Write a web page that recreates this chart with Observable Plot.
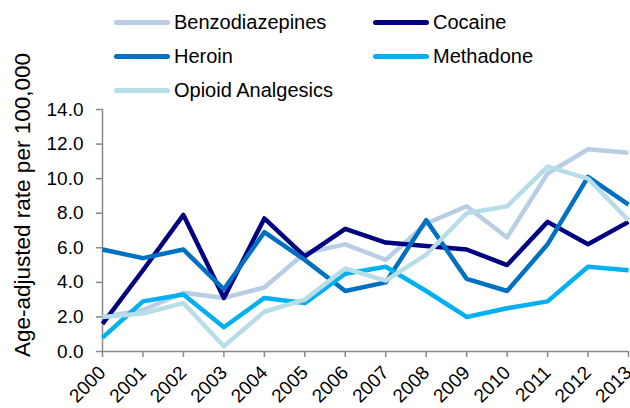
<!DOCTYPE html>
<html>
<head>
<meta charset="utf-8">
<script src="https://cdn.jsdelivr.net/npm/d3@7"></script>
<script src="https://cdn.jsdelivr.net/npm/@observablehq/plot@0.6"></script>
<style>
  html, body { margin: 0; padding: 0; background: #fff; }
  #wrap { position: relative; width: 630px; height: 408px; overflow: hidden; font-family: "Liberation Sans", Arial, sans-serif; }
  #legend { position: absolute; left: 0; top: 0; width: 630px; height: 110px; }
  .item { position: absolute; height: 30px; display: flex; align-items: center; font-size: 20px; color: #000; }
  .sw { width: 56px; height: 5px; border-radius: 3px; margin-right: 4px; }
  #ytitle { position: absolute; left: 23px; top: 205px; transform: translate(-50%, -50%) rotate(-90deg); white-space: nowrap; font-size: 22.5px; color: #000; }
</style>
</head>
<body>
<div id="wrap">
  <div id="chart"></div>
  <div id="legend"></div>
  <div id="ytitle"></div>
</div>
<script>
const years = [2000, 2001, 2002, 2003, 2004, 2005, 2006, 2007, 2008, 2009, 2010, 2011, 2012, 2013];
const seriesNames = ["Benzodiazepines", "Cocaine", "Heroin", "Methadone", "Opioid Analgesics"];
const seriesColors = ["#B9CDE5", "#000080", "#0070C0", "#00B0F0", "#B7DEE8"];
const benzodiazepines = [2.0, 2.4, 3.4, 3.1, 3.7, 5.7, 6.2, 5.3, 7.4, 8.4, 6.6, 10.3, 11.7, 11.5];
const cocaine         = [1.6, 4.7, 7.9, 3.1, 7.7, 5.5, 7.1, 6.3, 6.1, 5.9, 5.0, 7.5, 6.2, 7.5];
const heroin          = [5.9, 5.4, 5.9, 3.6, 6.9, 5.3, 3.5, 4.0, 7.6, 4.2, 3.5, 6.2, 10.1, 8.5];
const methadone       = [0.8, 2.9, 3.3, 1.4, 3.1, 2.8, 4.5, 4.9, 3.5, 2.0, 2.5, 2.9, 4.9, 4.7];
const opioids         = [2.0, 2.2, 2.8, 0.3, 2.3, 3.0, 4.8, 4.1, 5.6, 8.0, 8.4, 10.7, 10.0, 7.6];
const yTicks = [0, 2, 4, 6, 8, 10, 12, 14];
const yTitle = "Age-adjusted rate per 100,000";

const valuesBySeries = [benzodiazepines, cocaine, heroin, methadone, opioids];
const data = [];
seriesNames.forEach((name, i) => {
  years.forEach((yr, j) => data.push({series: name, year: yr, value: valuesBySeries[i][j]}));
});

const axisGray = "#888888";

const chart = Plot.plot({
  width: 630,
  height: 408,
  marginLeft: 102,
  marginRight: 2,
  marginTop: 109,
  marginBottom: 57,
  style: {fontFamily: "Liberation Sans, Arial, sans-serif", fontSize: "19px", color: "#000", background: "#fff", overflow: "visible"},
  x: {type: "linear", domain: [2000, 2013]},
  y: {domain: [0, 14]},
  color: {domain: seriesNames, range: seriesColors},
  marks: [
    Plot.axisY({ticks: yTicks, tickFormat: d3.format(".1f"), tickSize: 6, tickPadding: 13, stroke: axisGray, strokeWidth: 1.5, fill: "#000", label: null}),
    Plot.axisX({ticks: years, tickFormat: d => String(d), tickSize: 6, tickPadding: 12, tickRotate: -45, stroke: axisGray, strokeWidth: 1.5, fill: "#000", label: null}),
    Plot.ruleX([2000], {stroke: axisGray, strokeWidth: 1.5}),
    Plot.ruleY([0], {stroke: axisGray, strokeWidth: 1.5}),
    Plot.line(data, {x: "year", y: "value", z: "series", stroke: "series", strokeWidth: 4.5, strokeLinejoin: "round", strokeLinecap: "butt"})
  ]
});
document.getElementById("chart").appendChild(chart);

// legend
const legendPos = [[114, 22], [373, 22], [114, 56], [373, 56], [114, 90]];
const legend = document.getElementById("legend");
seriesNames.forEach((name, i) => {
  const it = document.createElement("div");
  it.className = "item";
  it.style.left = legendPos[i][0] + "px";
  it.style.top = (legendPos[i][1] - 15) + "px";
  const sw = document.createElement("div");
  sw.className = "sw";
  sw.style.background = seriesColors[i];
  const tx = document.createElement("span");
  tx.textContent = name;
  it.appendChild(sw);
  it.appendChild(tx);
  legend.appendChild(it);
});
document.getElementById("ytitle").textContent = yTitle;
</script>
</body>
</html>
